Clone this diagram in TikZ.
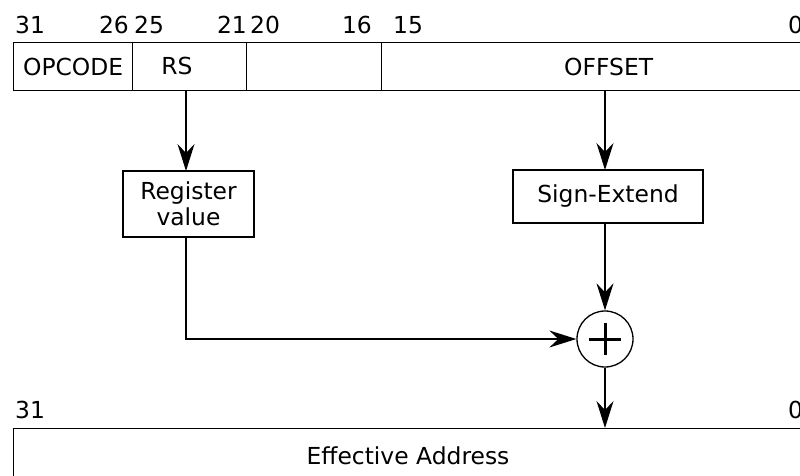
\documentclass[tikz,border=0pt]{standalone}
\usepackage{fontspec}
\setmainfont{DejaVu Sans}
\usetikzlibrary{arrows.meta,calc}
\begin{document}
\begin{tikzpicture}[x=1pt,y=-1pt,
  lw/.style={line width=1.3pt},
  txt/.style={font=\fontsize{23.4}{26}\selectfont, inner sep=0pt},
  field/.style={draw, lw, txt, minimum height=48pt, anchor=north west},
  procbox/.style={draw, lw, txt, align=center},
  bitnum/.style={txt, anchor=base},
  arr/.style={lw, -{Stealth[length=27pt,width=17pt,inset=9pt]}}
]
\useasboundingbox (0,0) rectangle (800,475);

% instruction word fields
\node[field, minimum width=119pt] (opcode) at (13,42) {OPCODE};
\node[field, minimum width=114pt] (rs) at (132,42) {};
\node[txt] (rstext) at (177,66) {RS};
\node[field, minimum width=135pt] (rt) at (246,42) {};
\node[field, minimum width=454pt] (offset) at (381,42) {OFFSET};

% bit positions of the instruction word
\node[bitnum, anchor=base west] (b31) at (15,33) {31};
\node[bitnum, anchor=base east] (b26) at (129,33) {26};
\node[bitnum, anchor=base west] (b25) at (134,33) {25};
\node[bitnum, anchor=base east] (b21) at (247,33) {21};
\node[bitnum, anchor=base west] (b20) at (250,33) {20};
\node[bitnum, anchor=base east] (b16) at (372,33) {16};
\node[bitnum, anchor=base west] (b15) at (393,33) {15};
\node[bitnum, anchor=base west] (b0) at (788,33) {0};

% processing boxes
\node[procbox, minimum width=131pt, minimum height=66pt] (regval) at (188.5,204) {Register\\value};
\node[procbox, minimum width=190pt, minimum height=53pt] (sext) at (608,196.5) {Sign-Extend};

% adder
\node[draw, lw, circle, minimum size=56pt, inner sep=0pt] (adder) at (605,339) {};
\draw[line width=3pt] ($(adder.center)+(-16,0)$) -- ($(adder.center)+(16,0)$)
                      ($(adder.center)+(0,-16)$) -- ($(adder.center)+(0,16)$);

% effective address word
\node[draw, lw, minimum width=800pt, minimum height=60pt, anchor=north west] (ea) at (13,428) {};
\node[txt] (eatext) at (408,456) {Effective Address};
\node[bitnum, anchor=base west] (e31) at (15,418) {31};
\node[bitnum, anchor=base west] (e0) at (788,418) {0};

% connectors
\coordinate (rsout) at (186,90);
\coordinate (offout) at (605,90);
\coordinate (regin) at (186,171);
\coordinate (sextin) at (605,170);
\coordinate (sextout) at (605,223);
\coordinate (regout) at (186,237);
\coordinate (eain) at (605,428);
\coordinate (bend) at (186,339);

\draw[arr] (rsout) -- (regin);
\draw[arr] (offout) -- (sextin);
\draw[arr] (sextout) -- (adder.north);
\draw[arr] (regout) -- (bend) -- (adder.west);
\draw[arr] (adder.south) -- (eain);
\end{tikzpicture}
\end{document}
